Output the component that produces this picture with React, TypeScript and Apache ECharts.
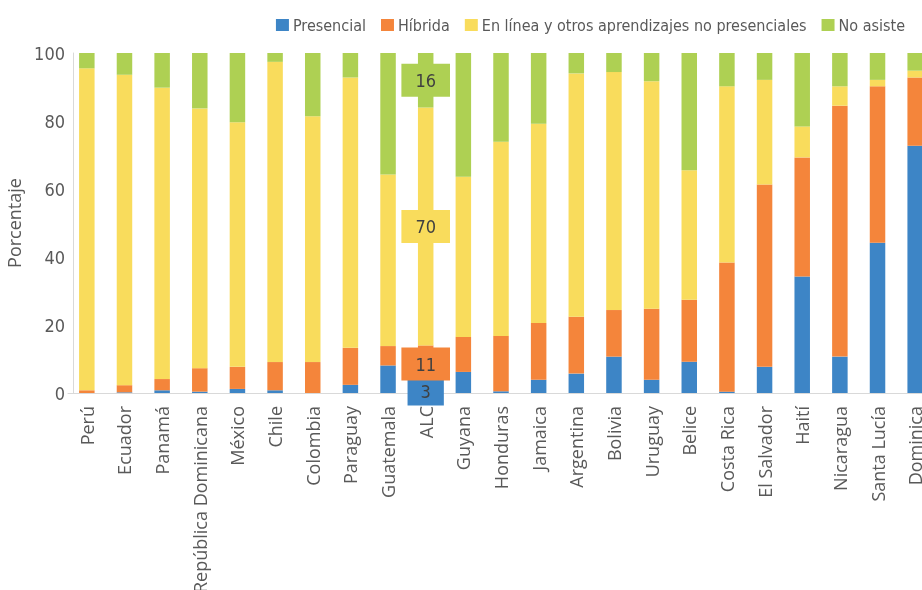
import React, { useEffect, useRef } from "react";
import * as echarts from "echarts";

const categories = [
  "Perú", "Ecuador", "Panamá", "República Dominicana", "México", "Chile", "Colombia",
  "Paraguay", "Guatemala", "ALC", "Guyana", "Honduras", "Jamaica", "Argentina", "Bolivia",
  "Uruguay", "Belice", "Costa Rica", "El Salvador", "Haití", "Nicaragua", "Santa Lucía", "Dominica",
];
const presencial = [0, 0.2, 0.8, 0.4, 1.2, 0.8, 0, 2.4, 8.1, 3, 6.2, 0.5, 3.9, 5.7, 10.7, 3.9, 9.2, 0.4, 7.7, 34.3, 10.7, 44.2, 72.7];
const hibrida = [0.8, 2.1, 3.3, 6.9, 6.5, 8.3, 9.1, 10.9, 5.7, 11, 10.3, 16.3, 16.7, 16.7, 13.7, 20.9, 18.2, 38.0, 53.6, 35.0, 73.8, 46.0, 20.1];
const enLinea = [94.7, 91.3, 85.7, 76.4, 71.9, 88.3, 72.3, 79.5, 50.5, 70, 47.1, 57.1, 58.6, 71.6, 70.0, 66.9, 38.1, 51.8, 30.8, 9.1, 5.7, 1.9, 2.0];
const noAsiste = [4.5, 6.4, 10.2, 16.3, 20.4, 2.6, 18.6, 7.2, 35.7, 16, 36.4, 26.1, 20.8, 6.0, 5.6, 8.3, 34.5, 9.8, 7.9, 21.6, 9.8, 7.9, 5.2];
const seriesNames = ["Presencial", "Híbrida", "En línea y otros aprendizajes no presenciales", "No asiste"];
const colors = ["#3D85C6", "#F4853B", "#F9DC5C", "#AED053"];
const highlighted = "ALC";

const condFont = "'DejaVu Sans Condensed', 'DejaVu Sans', sans-serif";
const textFont = "'Open Sans', sans-serif";

export default function App() {
  const ref = useRef<HTMLDivElement>(null);
  useEffect(() => {
    if (!ref.current) return;
    const chart = echarts.init(ref.current, undefined, { renderer: "svg" });
    const hiIdx = categories.indexOf(highlighted);
    const allData = [presencial, hibrida, enLinea, noAsiste];
    const labelPads: any[] = [[4, 13, 4, 13], [7, 14, 7, 14], [7, 14, 7, 14], [7, 14, 7, 14]];
    const labelOffsets: any[] = [[0, 4], [0, 0], [0, 0], [0, 0]];
    const series = allData.map((arr, si) => ({
      name: seriesNames[si],
      type: "bar",
      stack: "total",
      barWidth: 15.5,
      itemStyle: { color: colors[si] },
      data: arr.map((v, i) =>
        i === hiIdx
          ? {
              value: v,
              label: {
                show: true,
                position: "inside",
                formatter: "{c}",
                backgroundColor: colors[si],
                padding: labelPads[si],
                offset: labelOffsets[si],
                color: "#404040",
                fontSize: 18,
                lineHeight: 19,
                fontFamily: condFont,
              },
            }
          : v
      ),
    }));
    chart.setOption({
      animation: false,
      color: colors,
      legend: {
        top: 12,
        right: 12,
        itemWidth: 13,
        itemHeight: 12,
        itemGap: 15,
        icon: "rect",
        textStyle: { fontSize: 16, color: "#595959", fontFamily: condFont, padding: [0, 0, 0, -1] },
        data: seriesNames,
      },
      grid: { left: 68, right: -12, top: 53, bottom: 197, containLabel: false, outerBoundsMode: "none" },
      xAxis: {
        type: "category",
        data: categories,
        axisLine: { lineStyle: { color: "#D9D9D9" } },
        axisTick: { show: false },
        axisLabel: { rotate: 90, margin: 13, fontSize: 18, color: "#595959", fontFamily: textFont, interval: 0 },
      },
      yAxis: {
        type: "value",
        min: 0,
        max: 100,
        interval: 20,
        offset: -5,
        name: "Porcentaje",
        nameLocation: "middle",
        nameRotate: 90,
        nameGap: 46,
        nameTextStyle: { fontSize: 18, color: "#595959", fontFamily: textFont },
        axisLine: { show: true, lineStyle: { color: "#D9D9D9" } },
        axisTick: { show: false },
        splitLine: { show: false },
        axisLabel: { fontSize: 18, color: "#595959", fontFamily: condFont, margin: 8 },
      },
      series,
    });
    return () => chart.dispose();
  }, []);
  return <div ref={ref} style={{ position: "fixed", left: 0, top: 0, width: 922, height: 590 }} />;
}
